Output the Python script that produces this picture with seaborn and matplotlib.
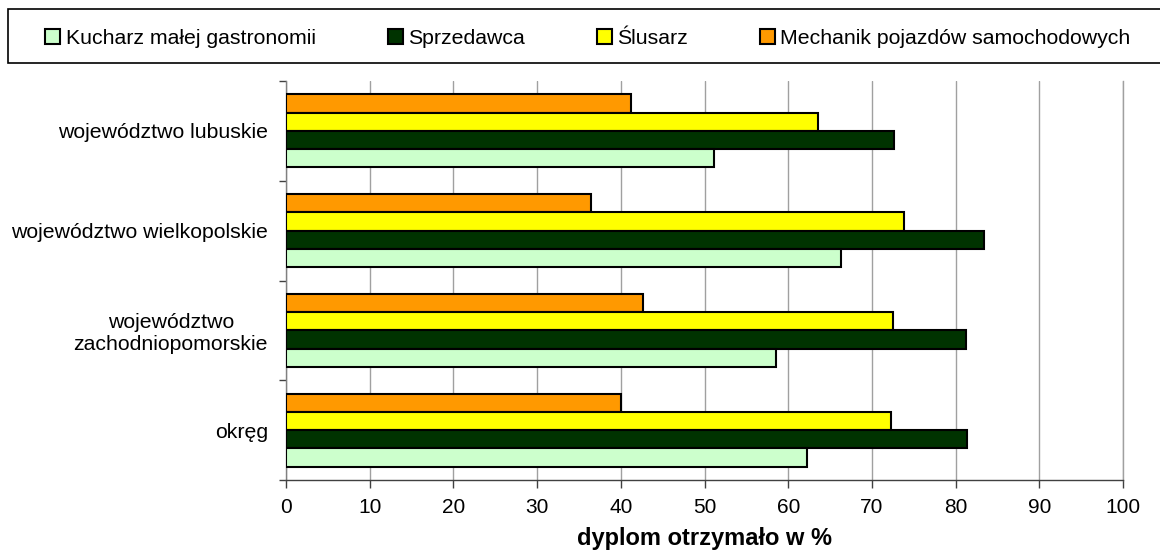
import pandas as pd
import matplotlib.pyplot as plt
import matplotlib.patches as mpatches
import seaborn as sns

# Data
regions = [
    "województwo lubuskie",
    "województwo wielkopolskie",
    "województwo\nzachodniopomorskie",
    "okręg",
]
kucharz = [51.1, 66.3, 58.6, 62.2]
sprzedawca = [72.6, 83.4, 81.2, 81.4]
slusarz = [63.6, 73.8, 72.5, 72.3]
mechanik = [41.2, 36.4, 42.7, 40.0]

series_names = ["Kucharz małej gastronomii", "Sprzedawca", "Ślusarz",
                "Mechanik pojazdów samochodowych"]
series_values = [kucharz, sprzedawca, slusarz, mechanik]
series_colors = ["#CCFFCC", "#003300", "#FFFF00", "#FF9900"]

rows = []
for name, vals in zip(series_names, series_values):
    for reg, v in zip(regions, vals):
        rows.append({"region": reg, "zawod": name, "value": v})
df = pd.DataFrame(rows)

sns.set_theme(style="white")
plt.rcParams["font.family"] = ["Liberation Sans", "DejaVu Sans"]
plt.rcParams["text.color"] = "black"
plt.rcParams["axes.labelcolor"] = "black"
plt.rcParams["xtick.labelcolor"] = "black"
plt.rcParams["ytick.labelcolor"] = "black"

fig = plt.figure(figsize=(11.6, 5.51), dpi=100)
ax = fig.add_axes([286 / 1160, 1 - 480 / 551, (1123 - 286) / 1160, (480 - 81) / 551])

# top-to-bottom order inside a group is the reverse of the legend order
draw_order = series_names[::-1]
palette = dict(zip(series_names, series_colors))
sns.barplot(data=df, y="region", x="value", hue="zawod", hue_order=draw_order,
            order=regions, palette=palette, orient="h", width=0.73,
            edgecolor="black", linewidth=1.5, saturation=1, ax=ax, legend=False,
            zorder=3)

ax.set_xlim(0, 100)
ax.set_ylim(len(regions) - 0.5, -0.5)
ax.set_xticks(range(0, 101, 10))
ax.xaxis.grid(True, color="#a0a0a0", linewidth=1, zorder=0)
ax.set_axisbelow(True)

ax.tick_params(axis="x", which="major", direction="out", length=6, width=1,
               color="#404040", bottom=True, labelsize=15, pad=7)
ax.tick_params(axis="y", which="major", length=0, labelsize=15.3, pad=13)
ax.set_yticks(range(len(regions)))
ax.set_yticklabels(regions, multialignment="center")
ax.set_yticks([i - 0.5 for i in range(len(regions) + 1)], minor=True)
ax.tick_params(axis="y", which="minor", direction="out", length=5, width=1,
               color="#404040", left=True)

ax.spines["top"].set_visible(False)
ax.spines["right"].set_color("#a0a0a0")
ax.spines["left"].set_color("#808080")
ax.spines["bottom"].set_color("#404040")
for side in ["left", "bottom", "right"]:
    ax.spines[side].set_linewidth(1)

ax.set_ylabel("")
ax.set_xlabel("dyplom otrzymało w %", fontsize=17, fontweight="bold", labelpad=7)

# legend in a box across the top
box = mpatches.Rectangle((8 / 1160, 1 - 63 / 551), 1.2, 54 / 551,
                         transform=fig.transFigure, facecolor="white",
                         edgecolor="black", linewidth=1.2, zorder=0)
fig.patches.append(box)
handles = [mpatches.Patch(facecolor=c, edgecolor="black", linewidth=1.5)
           for c in series_colors]
fig.legend(handles, series_names, loc="center", ncol=4,
           bbox_to_anchor=(588 / 1160, 1 - 38 / 551), frameon=False,
           fontsize=15.3, handlelength=0.7, handleheight=0.7,
           handletextpad=0.25, columnspacing=3.4)

fig.savefig("out.png", dpi=100)
